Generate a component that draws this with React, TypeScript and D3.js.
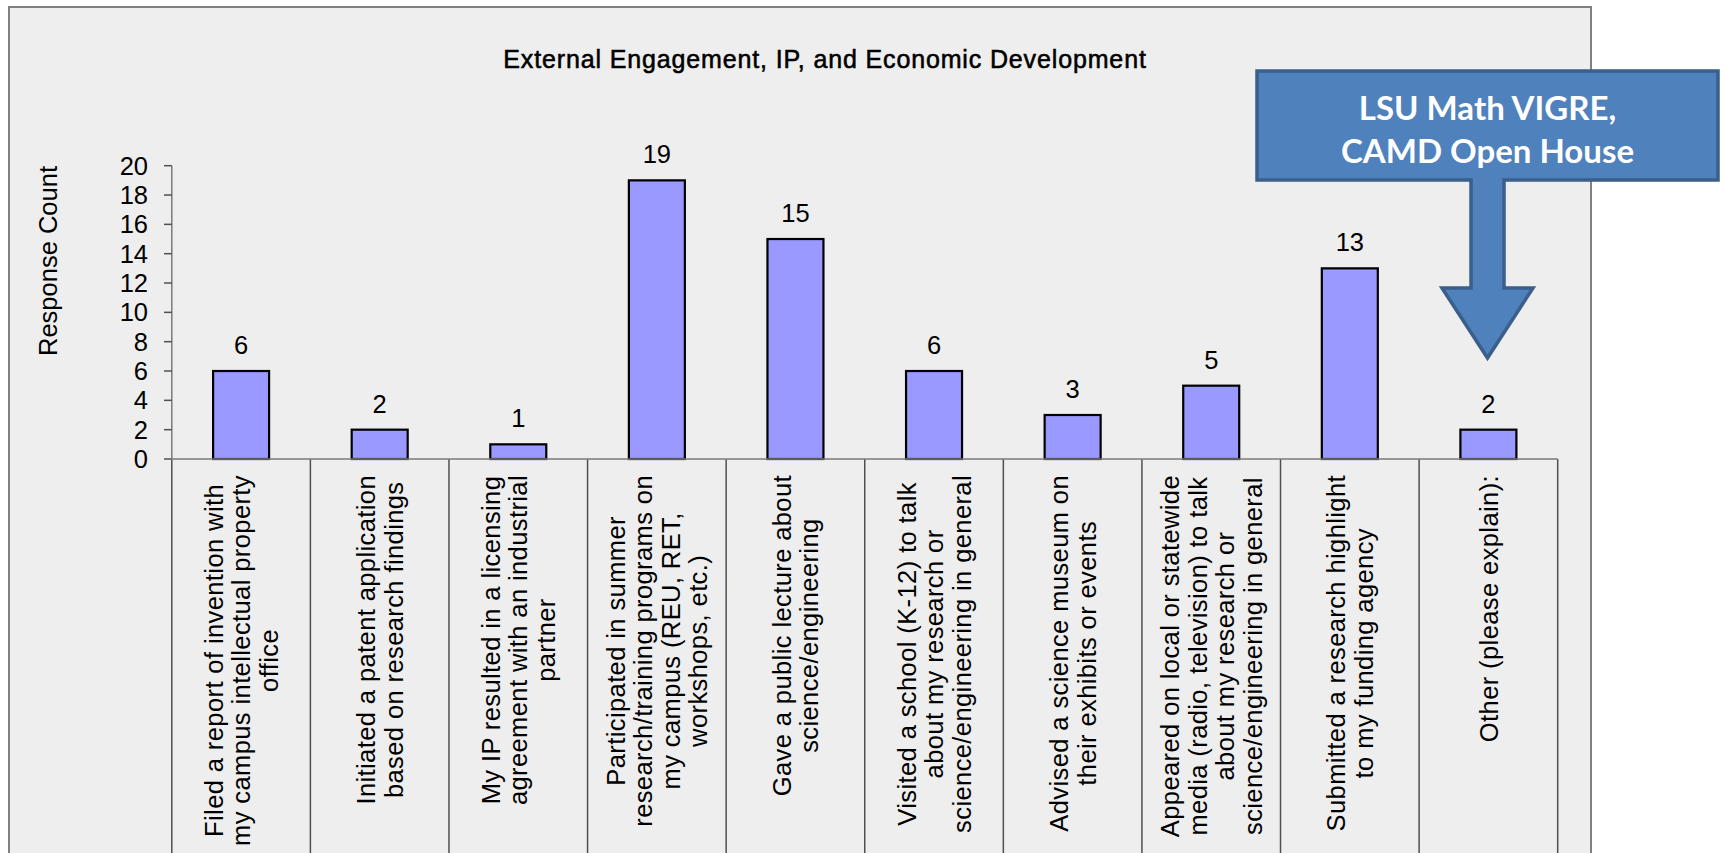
import React from "react";
import * as d3 from "d3";

const W = 1725;
const H = 853;

const titleText = "External Engagement, IP, and Economic Development";
const yAxisTitle = "Response Count";
const yTicks = [0, 2, 4, 6, 8, 10, 12, 14, 16, 18, 20];

const categories: string[][] = [
  ["Filed a report of invention with", "my campus intellectual property", "office"],
  ["Initiated a patent application", "based on research findings"],
  ["My IP resulted in a licensing", "agreement with an industrial", "partner"],
  ["Participated in summer", "research/training programs on", "my campus (REU, RET,", "workshops, etc.)"],
  ["Gave a public lecture about", "science/engineering"],
  ["Visited a school (K-12) to talk", "about my research or", "science/engineering in general"],
  ["Advised a science museum on", "their exhibits or events"],
  ["Appeared on local or statewide", "media (radio, television) to talk", "about my research or", "science/engineering in general"],
  ["Submitted a research highlight", "to my funding agency"],
  ["Other (please explain):"],
];

const counts = [6, 2, 1, 19, 15, 6, 3, 5, 13, 2];

const calloutLines = ["LSU Math VIGRE,", "CAMD Open House"];

const FONT = '"Liberation Sans", Arial, sans-serif';
const LABEL_SIZE = 25.5;
const LABEL_LS = 0.4;

let measureCtx: CanvasRenderingContext2D | null = null;
function measure(text: string, size: number): number {
  if (!measureCtx) {
    const c = document.createElement("canvas");
    measureCtx = c.getContext("2d");
  }
  if (!measureCtx) return text.length * size * 0.5;
  measureCtx.font = `${size}px "Liberation Sans"`;
  return measureCtx.measureText(text).width + LABEL_LS * text.length;
}

export default function App() {
  const plotLeft = 171.8;
  const plotRight = 1557.7;
  const yTop = 165.7;
  const yBottom = 459;

  const keys = categories.map((_, i) => String(i));
  const x = d3.scaleBand<string>().domain(keys).range([plotLeft, plotRight]).padding(0);
  const xBar = d3
    .scaleBand<string>()
    .domain(keys)
    .range([plotLeft, plotRight])
    .paddingInner(0.596)
    .paddingOuter(0.298);
  const y = d3.scaleLinear().domain([0, 20]).range([yBottom, yTop]);

  const lh = 27.5;
  const labelTop = yBottom + 16;

  const boundaries = keys.map((k) => x(k) as number).concat([plotRight]);

  // callout geometry
  const bx0 = 1257, bx1 = 1718, by0 = 71, by1 = 180;
  const sx0 = 1471, sx1 = 1504, hy = 288, hx0 = 1442, hx1 = 1533, tipY = 358;
  const tipX = (sx0 + sx1) / 2;
  const calloutPath = `M${bx0},${by0} H${bx1} V${by1} H${sx1} V${hy} H${hx1} L${tipX},${tipY} L${hx0},${hy} H${sx0} V${by1} H${bx0} Z`;

  return (
    <div style={{ position: "fixed", left: 0, top: 0, width: W, height: H, background: "#ffffff" }}>
      <svg width={W} height={H} style={{ display: "block" }}>
        <rect x={9} y={7} width={1582} height={900} fill="#eeeeee" stroke="#808080" strokeWidth={2} />

        <text
          x={825}
          y={68}
          textAnchor="middle"
          fontFamily={FONT}
          fontSize={25}
          letterSpacing={0.86}
          stroke="#000"
          strokeWidth={0.55}
          fill="#000"
        >
          {titleText}
        </text>

        {/* y axis title */}
        <text
          transform={`translate(57,261) rotate(-90)`}
          textAnchor="middle"
          fontFamily={FONT}
          fontSize={25.5}
          fill="#000"
        >
          {yAxisTitle}
        </text>

        {/* y axis */}
        <line x1={plotLeft} x2={plotLeft} y1={yTop} y2={yBottom} stroke="#7a7a7a" strokeWidth={1.5} />
        {yTicks.map((t) => (
          <g key={t}>
            <line x1={164} x2={plotLeft} y1={y(t)} y2={y(t)} stroke="#505050" strokeWidth={1.5} />
            <text
              x={148}
              y={y(t) + 9}
              textAnchor="end"
              fontFamily={FONT}
              fontSize={25.5}
              fill="#000"
            >
              {t}
            </text>
          </g>
        ))}

        {/* category dividers */}
        {boundaries.map((bx, i) => (
          <line key={i} x1={bx} x2={bx} y1={yBottom} y2={H + 10} stroke="#505050" strokeWidth={1.5} />
        ))}

        {/* bars */}
        {keys.map((k, i) => (
          <rect
            key={k}
            x={xBar(k) as number}
            y={y(counts[i])}
            width={xBar.bandwidth()}
            height={y(0) - y(counts[i])}
            fill="#9999ff"
            stroke="#000"
            strokeWidth={2.2}
          />
        ))}

        {/* x axis line */}
        <line x1={164} x2={plotRight} y1={yBottom} y2={yBottom} stroke="#7a7a7a" strokeWidth={1.5} />

        {/* value labels */}
        {keys.map((k, i) => (
          <text
            key={k}
            x={(xBar(k) as number) + xBar.bandwidth() / 2}
            y={y(counts[i]) - 17}
            textAnchor="middle"
            fontFamily={FONT}
            fontSize={25.5}
            fill="#000"
          >
            {counts[i]}
          </text>
        ))}

        {/* category labels */}
        {categories.map((lines, i) => {
          const cx = (x(keys[i]) as number) + x.bandwidth() / 2;
          const maxLen = Math.max(...lines.map((l) => measure(l, LABEL_SIZE)));
          const n = lines.length;
          return (
            <g key={i} transform={`translate(${cx},${labelTop}) rotate(-90)`}>
              {lines.map((l, j) => (
                <text
                  key={j}
                  x={-maxLen / 2}
                  y={(j - (n - 1) / 2) * lh + 9.2}
                  textAnchor="middle"
                  fontFamily={FONT}
                  fontSize={LABEL_SIZE}
                  letterSpacing={LABEL_LS}
                  fill="#000"
                >
                  {l}
                </text>
              ))}
            </g>
          );
        })}

        {/* callout arrow */}
        <path d={calloutPath} fill="#4f81bd" stroke="#3a5f8b" strokeWidth={3.5} strokeLinejoin="miter" />
        {calloutLines.map((l, i) => (
          <text
            key={i}
            x={1487.5}
            y={119.5 + i * 43.3}
            textAnchor="middle"
            fontFamily="Lato, 'Open Sans', sans-serif"
            fontWeight="bold"
            fontSize={33}
            fill="#ffffff"
          >
            {l}
          </text>
        ))}
      </svg>
    </div>
  );
}
